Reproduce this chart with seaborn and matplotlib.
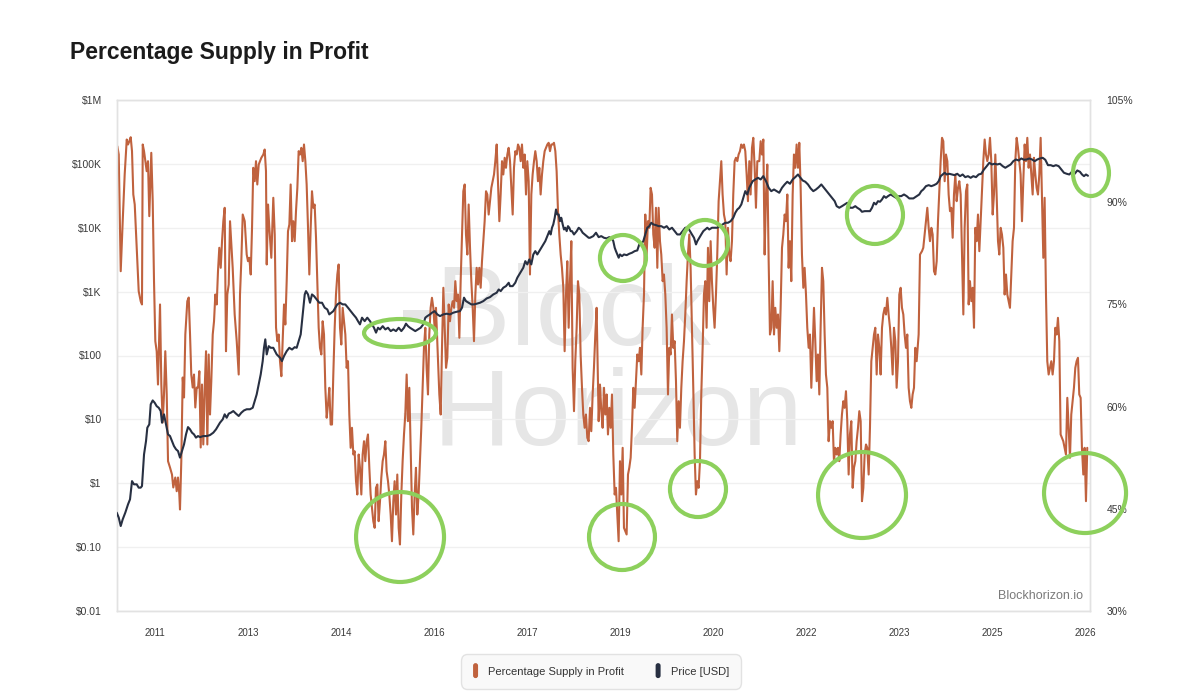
import matplotlib
matplotlib.use("Agg")
import matplotlib.pyplot as plt
import seaborn as sns
from matplotlib.patches import Ellipse, FancyBboxPatch, Patch
from matplotlib.legend_handler import HandlerPatch
from matplotlib.ticker import FixedLocator, FixedFormatter, NullLocator

# ---------------- data ----------------
psip_year = [
    2010.392, 2010.415, 2010.447, 2010.479, 2010.511, 2010.544, 2010.565, 2010.586, 2010.608, 2010.629,
    2010.650, 2010.673, 2010.705, 2010.737, 2010.769, 2010.790, 2010.802, 2010.823, 2010.844, 2010.866,
    2010.887, 2010.908, 2010.940, 2010.963, 2010.984, 2011.005, 2011.027, 2011.048, 2011.081, 2011.102,
    2011.124, 2011.145, 2011.166, 2011.189, 2011.210, 2011.242, 2011.274, 2011.295, 2011.327, 2011.350,
    2011.371, 2011.392, 2011.403, 2011.424, 2011.447, 2011.468, 2011.489, 2011.521, 2011.544, 2011.565,
    2011.585, 2011.608, 2011.629, 2011.650, 2011.673, 2011.694, 2011.715, 2011.737, 2011.758, 2011.779,
    2011.802, 2011.823, 2011.844, 2011.866, 2011.887, 2011.908, 2011.931, 2011.952, 2011.973, 2011.995,
    2012.016, 2012.037, 2012.060, 2012.081, 2012.102, 2012.124, 2012.145, 2012.166, 2012.189, 2012.210,
    2012.231, 2012.253, 2012.285, 2012.318, 2012.350, 2012.371, 2012.392, 2012.415, 2012.447, 2012.479,
    2012.500, 2012.521, 2012.544, 2012.565, 2012.585, 2012.608, 2012.629, 2012.650, 2012.673, 2012.694,
    2012.715, 2012.747, 2012.769, 2012.790, 2012.802, 2012.823, 2012.844, 2012.876, 2012.908, 2012.931,
    2012.952, 2012.973, 2012.995, 2013.016, 2013.038, 2013.059, 2013.081, 2013.102, 2013.124, 2013.145,
    2013.167, 2013.188, 2013.210, 2013.231, 2013.253, 2013.274, 2013.296, 2013.317, 2013.339, 2013.360,
    2013.382, 2013.403, 2013.425, 2013.446, 2013.468, 2013.489, 2013.511, 2013.532, 2013.554, 2013.575,
    2013.597, 2013.618, 2013.640, 2013.661, 2013.683, 2013.704, 2013.726, 2013.747, 2013.769, 2013.790,
    2013.812, 2013.833, 2013.855, 2013.876, 2013.898, 2013.919, 2013.941, 2013.962, 2013.984, 2014.005,
    2014.027, 2014.048, 2014.070, 2014.091, 2014.113, 2014.134, 2014.156, 2014.177, 2014.199, 2014.220,
    2014.242, 2014.263, 2014.285, 2014.306, 2014.328, 2014.349, 2014.371, 2014.392, 2014.414, 2014.435,
    2014.457, 2014.478, 2014.500, 2014.521, 2014.543, 2014.564, 2014.586, 2014.607, 2014.629, 2014.650,
    2014.672, 2014.693, 2014.715, 2014.736, 2014.758, 2014.779, 2014.801, 2014.822, 2014.844, 2014.865,
    2014.887, 2014.908, 2014.930, 2014.951, 2014.973, 2014.994, 2015.016, 2015.037, 2015.059, 2015.080,
    2015.102, 2015.123, 2015.145, 2015.166, 2015.188, 2015.209, 2015.231, 2015.252, 2015.274, 2015.295,
    2015.317, 2015.338, 2015.360, 2015.381, 2015.403, 2015.424, 2015.446, 2015.467, 2015.489, 2015.510,
    2015.532,
    2015.565, 2015.586, 2015.608, 2015.629, 2015.651, 2015.672, 2015.694, 2015.715, 2015.737, 2015.758,
    2015.780, 2015.801, 2015.823, 2015.844, 2015.866, 2015.887, 2015.909, 2015.930, 2015.952, 2015.973,
    2015.995, 2016.016, 2016.038, 2016.059, 2016.081, 2016.102, 2016.124, 2016.145, 2016.167, 2016.188,
    2016.210, 2016.231, 2016.253, 2016.274, 2016.296, 2016.317, 2016.339, 2016.360, 2016.382, 2016.403,
    2016.425, 2016.446, 2016.468, 2016.489, 2016.511, 2016.532, 2016.554, 2016.575, 2016.597, 2016.618,
    2016.640, 2016.661, 2016.683, 2016.704, 2016.726, 2016.747, 2016.769, 2016.790, 2016.812, 2016.833,
    2016.855, 2016.876, 2016.898, 2016.919, 2016.941, 2016.962, 2016.984, 2017.005, 2017.027, 2017.048,
    2017.070, 2017.091, 2017.113, 2017.134, 2017.156, 2017.177, 2017.199, 2017.220, 2017.242, 2017.263,
    2017.285, 2017.306, 2017.328, 2017.349, 2017.371, 2017.392, 2017.414, 2017.435, 2017.457, 2017.478,
    2017.500, 2017.521, 2017.543, 2017.564, 2017.586, 2017.607, 2017.629, 2017.650, 2017.672, 2017.693,
    2017.715, 2017.736, 2017.758, 2017.779, 2017.801, 2017.822, 2017.844, 2017.865, 2017.887, 2017.908,
    2017.930, 2017.951, 2017.973, 2017.994, 2018.016, 2018.037, 2018.059, 2018.080, 2018.102, 2018.123,
    2018.156, 2018.177, 2018.199, 2018.220, 2018.242, 2018.263, 2018.285, 2018.306, 2018.328, 2018.349,
    2018.371, 2018.392, 2018.414, 2018.435, 2018.457, 2018.478, 2018.500, 2018.521, 2018.543, 2018.564,
    2018.586, 2018.607, 2018.629, 2018.650, 2018.672, 2018.693, 2018.715, 2018.736, 2018.758, 2018.779,
    2018.801, 2018.822, 2018.844, 2018.865, 2018.887, 2018.908, 2018.930, 2018.951, 2018.973, 2018.994,
    2019.016, 2019.037, 2019.059, 2019.080, 2019.102, 2019.123, 2019.145, 2019.166, 2019.188, 2019.209,
    2019.231, 2019.252, 2019.274, 2019.295, 2019.317, 2019.338, 2019.360, 2019.381, 2019.403, 2019.424,
    2019.446, 2019.467, 2019.489, 2019.510, 2019.532, 2019.553, 2019.575, 2019.596, 2019.618, 2019.639,
    2019.661, 2019.682, 2019.704, 2019.725, 2019.747, 2019.768, 2019.790, 2019.811, 2019.833, 2019.854,
    2019.876, 2019.897, 2019.919, 2019.940, 2019.962, 2019.983, 2020.005, 2020.026, 2020.048, 2020.069,
    2020.091, 2020.112, 2020.134, 2020.155, 2020.177, 2020.198, 2020.220, 2020.241, 2020.263, 2020.284,
    2020.306, 2020.327, 2020.349, 2020.370, 2020.392, 2020.413, 2020.435, 2020.456, 2020.478, 2020.499,
    2020.521, 2020.543, 2020.564, 2020.586, 2020.607, 2020.629, 2020.650, 2020.672, 2020.693, 2020.715,
    2020.747, 2020.769, 2020.790, 2020.812, 2020.833, 2020.855, 2020.876, 2020.898, 2020.919, 2020.941,
    2020.962, 2020.984, 2021.005, 2021.027, 2021.048, 2021.070, 2021.091, 2021.113, 2021.134, 2021.156,
    2021.177, 2021.199, 2021.220, 2021.242, 2021.263, 2021.285, 2021.306, 2021.328, 2021.349, 2021.371,
    2021.392, 2021.414, 2021.435, 2021.457, 2021.478, 2021.500, 2021.521, 2021.543, 2021.564, 2021.586,
    2021.607, 2021.629, 2021.650, 2021.672, 2021.693, 2021.715, 2021.736, 2021.758, 2021.779, 2021.801,
    2021.822, 2021.844, 2021.865, 2021.887, 2021.908, 2021.930, 2021.951, 2021.973, 2021.994, 2022.016,
    2022.037, 2022.059, 2022.080, 2022.102, 2022.123, 2022.145, 2022.166, 2022.188, 2022.209, 2022.231,
    2022.253, 2022.274, 2022.296, 2022.317, 2022.339, 2022.360, 2022.382, 2022.403, 2022.425, 2022.446,
    2022.468, 2022.489, 2022.511, 2022.532, 2022.554, 2022.575, 2022.597, 2022.618, 2022.640, 2022.661,
    2022.683, 2022.704, 2022.726, 2022.747, 2022.769, 2022.790, 2022.812, 2022.833, 2022.855, 2022.876,
    2022.898, 2022.919, 2022.941, 2022.962, 2022.984, 2023.005, 2023.027, 2023.048, 2023.070, 2023.091,
    2023.113, 2023.134, 2023.156, 2023.177, 2023.199, 2023.220, 2023.242, 2023.263, 2023.285,
    2023.317, 2023.339,
    2023.371, 2023.392, 2023.414, 2023.436, 2023.457, 2023.479, 2023.500, 2023.522, 2023.543, 2023.565,
    2023.586, 2023.608, 2023.629, 2023.651, 2023.672, 2023.694, 2023.715, 2023.737, 2023.758, 2023.780,
    2023.801, 2023.823, 2023.844, 2023.866, 2023.887, 2023.909, 2023.930, 2023.952, 2023.973, 2023.995,
    2024.016, 2024.038, 2024.059, 2024.081, 2024.102, 2024.124, 2024.145, 2024.167, 2024.188, 2024.210,
    2024.231, 2024.253, 2024.274, 2024.296, 2024.317, 2024.339, 2024.360, 2024.382, 2024.403, 2024.425,
    2024.446, 2024.468, 2024.489, 2024.511, 2024.532, 2024.554, 2024.575, 2024.597, 2024.618, 2024.640,
    2024.661, 2024.683, 2024.704, 2024.726, 2024.747, 2024.769, 2024.790, 2024.812, 2024.833, 2024.855,
    2024.876, 2024.898, 2024.919, 2024.941, 2024.962, 2024.984, 2025.005, 2025.027, 2025.048, 2025.070,
    2025.091, 2025.113, 2025.134, 2025.156, 2025.177, 2025.199, 2025.220, 2025.242, 2025.263, 2025.285,
    2025.306, 2025.328, 2025.349, 2025.371, 2025.392, 2025.414, 2025.435, 2025.457, 2025.478, 2025.500,
    2025.521, 2025.543, 2025.564, 2025.586, 2025.607, 2025.629, 2025.650, 2025.672, 2025.693, 2025.715,
    2025.736, 2025.758, 2025.779, 2025.801, 2025.822, 2025.844, 2025.865, 2025.887, 2025.908, 2025.930,
    2025.951, 2025.973, 2025.994, 2026.016, 2026.037,
]

psip_pct = [
    98.22, 97.0, 79.87, 87.21, 94.07, 99.2, 98.47, 98.95, 99.54, 97.49,
    91.13, 89.66, 83.35, 76.94, 75.47, 74.99, 98.47, 97.49, 96.02, 94.55,
    96.02, 87.95, 97.25, 90.15, 78.41, 69.6, 68.13, 63.24, 74.99, 63.24,
    57.67, 61.78, 68.13, 61.78, 51.99, 51.06, 50.03, 48.13, 49.59, 47.58,
    49.59, 47.1, 44.9, 51.99, 64.27, 61.34, 70.58, 75.47, 76.01, 70.58,
    64.71, 62.8, 64.71, 59.87, 62.8, 62.8, 65.2, 54.0, 63.24, 54.44,
    62.8, 68.13, 54.44, 67.65, 58.84, 63.73, 70.58, 72.53, 76.45, 74.99,
    79.87, 83.31, 80.37, 84.28, 87.21, 89.18, 68.13, 76.45, 77.92, 87.21,
    83.79, 80.37, 73.52, 69.6, 64.71, 76.45, 81.34, 88.19, 87.21, 82.32,
    81.34, 81.84, 79.39, 86.24, 95.05, 93.08, 96.02, 92.6, 95.53, 96.02,
    96.52, 97.0, 97.73, 94.55, 80.86, 89.66, 86.24, 81.84, 90.65, 85.26,
    71.61, 69.6, 70.58, 66.66, 64.46, 69.6, 74.99, 72.05, 78.41, 85.74,
    86.73, 92.6, 84.28, 87.21, 84.28, 88.68, 92.11, 97.49, 97.0, 97.98,
    96.02, 98.47, 96.02, 92.6, 86.24, 79.39, 86.24, 91.61, 89.18, 89.66,
    84.78, 78.41, 71.57, 68.63, 67.65, 72.53, 70.58, 62.76, 58.36, 60.31,
    62.76, 57.37, 57.37, 64.71, 71.57, 76.45, 79.39, 80.86, 71.57, 69.11,
    74.5, 72.53, 70.58, 65.69, 66.66, 58.84, 53.95, 56.89, 52.97, 53.45,
    49.05, 47.1, 52.97, 51.02, 47.1, 52.97, 54.92, 51.99, 54.92, 55.91,
    51.02, 47.1, 45.15, 43.18, 42.21, 48.08, 48.57, 43.18, 46.12, 49.55,
    51.99, 52.97, 54.92, 50.52, 49.05, 47.1, 44.16, 40.24, 46.12, 49.05,
    44.16, 50.03, 42.21, 39.76, 47.1, 51.99, 55.91, 58.84, 64.71, 57.86,
    62.76, 53.95, 45.15, 41.23, 47.1, 51.02, 44.16, 47.1, 51.99, 56.89,
    62.76, 68.63, 71.57, 65.69, 61.78, 70.58, 74.5, 75.97, 74.5, 71.57,
    74.5,
    66.66, 61.78, 58.84, 68.63, 77.44, 71.57, 65.69, 67.16, 74.99, 72.53,
    74.5, 75.47, 74.5, 78.41, 75.47, 76.45, 70.1, 78.41, 85.26, 91.61,
    92.6, 85.26, 82.32, 89.66, 83.31, 78.41, 74.5, 69.6, 76.45, 80.37,
    77.92, 80.37, 77.44, 81.34, 84.28, 87.21, 91.61, 91.13, 88.19, 90.15,
    92.11, 93.08, 94.07, 96.02, 98.47, 93.08, 87.21, 91.13, 96.02, 94.07,
    96.52, 95.05, 97.0, 97.98, 96.02, 92.11, 88.19, 95.05, 97.49, 97.0,
    98.47, 97.98, 96.02, 98.47, 95.05, 97.0, 91.13, 96.02, 93.08, 79.39,
    91.13, 94.07, 96.02, 97.49, 96.02, 93.08, 95.05, 91.13, 94.07, 96.02,
    97.49, 97.98, 98.47, 98.72, 97.49, 98.47, 98.47, 98.72, 97.49, 94.55,
    88.68, 85.26, 82.32, 80.37, 77.44, 68.13, 76.45, 81.34, 71.57, 78.41,
    84.28, 65.69, 59.33, 66.66, 71.57, 78.41, 76.45, 67.65, 62.76, 58.84,
    56.89, 58.84, 55.42, 54.92, 59.82, 56.39, 61.78, 65.69, 70.58, 74.5,
    57.86, 63.24, 59.33, 56.89, 62.76, 58.84, 61.78, 55.91, 59.82, 56.89,
    61.78, 52.97, 47.1, 48.08, 44.16, 40.24, 51.99, 47.1, 53.95, 42.21,
    41.71, 41.23, 50.03, 51.02, 52.49, 56.89, 62.76, 59.82, 63.73, 67.65,
    66.66, 68.63, 64.71, 71.57, 76.45, 88.19, 82.32, 87.21, 86.24, 92.11,
    91.13, 85.26, 83.31, 89.18, 80.37, 89.18, 84.28, 82.32, 78.41, 79.39,
    76.45, 71.57, 61.78, 68.63, 67.65, 73.52, 68.63, 69.6, 63.73, 54.92,
    60.79, 56.89, 62.76, 66.66, 69.6, 73.52, 78.41, 82.32, 85.26, 80.37,
    71.57, 62.76, 52.97, 47.1, 49.05, 48.08, 51.99, 61.78, 68.63, 76.45,
    78.41, 71.57, 83.31, 75.47, 84.28, 78.41, 74.5, 71.57, 76.45, 82.32,
    90.15, 93.08, 96.02, 91.13, 88.19, 87.21, 79.39, 86.24, 82.32, 81.34,
    84.28, 91.13, 96.02, 96.52, 96.02, 97.0, 97.49, 98.47, 97.98, 98.47,
    97.49, 94.07, 90.15, 96.02, 91.13, 97.98, 99.45, 95.05, 89.18, 96.02,
    96.02, 98.95, 97.0, 99.2, 82.32, 91.13, 95.53, 81.34, 70.58, 71.57,
    78.41, 70.58, 74.5, 71.57, 73.52, 68.13, 74.5, 83.31, 85.26, 88.19,
    87.21, 91.13, 80.37, 84.28, 78.41, 91.13, 97.0, 95.05, 98.47, 95.05,
    98.72, 92.11, 82.32, 77.44, 80.37, 76.45, 71.57, 68.63, 70.58, 62.76,
    68.63, 74.5, 69.6, 63.73, 67.65, 61.78, 71.57, 80.37, 78.41, 70.58,
    64.71, 62.76, 54.92, 57.86, 56.89, 57.86, 51.99, 53.95, 52.97, 53.95,
    51.99, 55.91, 58.84, 60.79, 59.82, 62.26, 57.86, 50.03, 55.91, 57.86,
    48.08, 51.02, 51.99, 54.92, 56.89, 59.33, 57.86, 46.12, 48.08, 52.97,
    54.44, 53.95, 50.03, 56.89, 66.66, 68.63, 70.58, 71.57, 64.71, 70.58,
    68.63, 64.71, 71.57, 73.52, 74.5, 73.52, 75.97, 73.52, 71.57, 68.63,
    64.71, 71.57, 69.6, 62.76, 66.66, 76.45, 77.44, 74.5, 73.52, 70.58,
    68.63, 70.58, 62.76, 60.79, 59.82, 61.78, 62.76, 68.63, 66.66,
    70.58, 82.32,
    82.81, 83.31, 85.26, 87.21, 89.18, 86.24, 84.28, 86.24, 85.26, 79.87,
    79.39, 81.34, 87.21, 91.61, 96.02, 99.45, 98.95, 93.08, 97.0, 96.02,
    91.13, 88.68, 89.18, 84.78, 91.13, 94.07, 90.15, 92.11, 93.08, 91.13,
    82.32, 73.52, 86.24, 91.61, 92.6, 74.99, 78.41, 75.47, 77.44, 71.57,
    86.24, 84.28, 88.19, 82.81, 87.21, 92.11, 96.02, 99.2, 97.0, 96.02,
    97.0, 99.45, 96.02, 88.19, 91.13, 97.0, 91.13, 84.28, 82.32, 86.24,
    85.26, 83.31, 76.45, 79.39, 76.45, 75.47, 74.5, 79.39, 84.28, 86.24,
    96.02, 99.45, 97.98, 96.02, 94.07, 87.21, 93.08, 98.47, 96.02, 99.45,
    95.05, 97.0, 94.07, 91.13, 96.52, 94.07, 92.11, 91.13, 94.07, 99.45,
    91.13, 81.84, 90.65, 76.45, 66.66, 64.71, 65.69, 66.66, 64.71, 66.66,
    71.57, 70.58, 73.03, 69.6, 55.91, 55.42, 54.92, 53.95, 52.97, 61.29,
    56.89, 52.49, 58.84, 60.79, 62.76, 65.69, 66.66, 67.16, 61.78, 61.29,
    53.95, 50.03, 53.95, 46.12, 53.95,
]

price_year = [
    2010.382, 2010.415, 2010.447, 2010.479, 2010.521, 2010.565, 2010.597, 2010.629, 2010.661, 2010.705,
    2010.737, 2010.769, 2010.790, 2010.823, 2010.855, 2010.876, 2010.908, 2010.931, 2010.963, 2010.995,
    2011.027, 2011.060, 2011.092, 2011.113, 2011.145, 2011.177, 2011.210, 2011.242, 2011.274, 2011.306,
    2011.339, 2011.371, 2011.403, 2011.435, 2011.468, 2011.500, 2011.532, 2011.565, 2011.597, 2011.629,
    2011.661, 2011.694, 2011.726, 2011.779, 2011.834, 2011.887, 2011.940, 2011.984, 2012.016, 2012.048,
    2012.092, 2012.124, 2012.156, 2012.189, 2012.221, 2012.263, 2012.306, 2012.350, 2012.392, 2012.435,
    2012.479, 2012.532, 2012.576, 2012.608, 2012.640, 2012.673, 2012.705, 2012.737, 2012.758, 2012.779,
    2012.802, 2012.834, 2012.866, 2012.908, 2012.963, 2013.016, 2013.048, 2013.081, 2013.124, 2013.166,
    2013.210, 2013.253, 2013.285, 2013.318, 2013.350, 2013.371, 2013.392, 2013.415, 2013.435, 2013.468,
    2013.500, 2013.532, 2013.565, 2013.608, 2013.650, 2013.694, 2013.737, 2013.779, 2013.811, 2013.844,
    2013.876, 2013.908, 2013.940, 2013.984, 2014.027, 2014.069, 2014.113, 2014.156, 2014.198, 2014.242,
    2014.274, 2014.306, 2014.339, 2014.382, 2014.424, 2014.468, 2014.500, 2014.532, 2014.565, 2014.597,
    2014.629, 2014.673, 2014.715, 2014.758, 2014.802, 2014.844, 2014.887, 2014.931, 2014.973, 2015.016,
    2015.048, 2015.081, 2015.113, 2015.156, 2015.198, 2015.242, 2015.285, 2015.327, 2015.360, 2015.392,
    2015.435, 2015.468, 2015.511, 2015.553, 2015.597, 2015.650, 2015.705, 2015.758, 2015.811, 2015.866,
    2015.919, 2015.952, 2015.984, 2016.016, 2016.060, 2016.102, 2016.145, 2016.189, 2016.242, 2016.295,
    2016.350, 2016.403, 2016.457, 2016.511, 2016.544, 2016.576, 2016.618, 2016.661, 2016.705, 2016.726,
    2016.769, 2016.811, 2016.844, 2016.876, 2016.908, 2016.940, 2016.973, 2017.005, 2017.037, 2017.069,
    2017.102, 2017.134, 2017.166, 2017.198, 2017.231, 2017.263, 2017.295, 2017.327, 2017.360, 2017.382,
    2017.403, 2017.424, 2017.447, 2017.468, 2017.489, 2017.511, 2017.532, 2017.553, 2017.576, 2017.597,
    2017.618, 2017.640, 2017.661, 2017.682, 2017.705, 2017.726, 2017.758, 2017.802, 2017.834, 2017.866,
    2017.898, 2017.931, 2017.963, 2017.995, 2018.016, 2018.069, 2018.113, 2018.156, 2018.198, 2018.242,
    2018.285, 2018.327, 2018.371, 2018.392, 2018.415, 2018.435, 2018.457, 2018.479, 2018.500, 2018.532,
    2018.565, 2018.608, 2018.650, 2018.694, 2018.737, 2018.779, 2018.811, 2018.844, 2018.876, 2018.908,
    2018.940, 2018.973, 2019.005, 2019.037, 2019.081, 2019.124, 2019.166, 2019.210, 2019.253, 2019.295,
    2019.339, 2019.382, 2019.424, 2019.468, 2019.511, 2019.553, 2019.597, 2019.629, 2019.661, 2019.694,
    2019.726, 2019.747, 2019.779, 2019.811, 2019.844, 2019.876, 2019.908, 2019.940, 2019.984, 2020.027,
    2020.069, 2020.113, 2020.156, 2020.198, 2020.242, 2020.285, 2020.327, 2020.360, 2020.392, 2020.424,
    2020.457, 2020.489, 2020.521, 2020.553, 2020.585, 2020.640, 2020.682, 2020.726, 2020.769, 2020.811,
    2020.855, 2020.898, 2020.940, 2020.984, 2021.027, 2021.069, 2021.113, 2021.156, 2021.198, 2021.242,
    2021.285, 2021.327, 2021.371, 2021.403, 2021.447, 2021.489, 2021.532, 2021.576, 2021.618, 2021.661,
    2021.705, 2021.747, 2021.790, 2021.834, 2021.876, 2021.919, 2021.963, 2021.995, 2022.037, 2022.081,
    2022.124, 2022.166, 2022.210, 2022.253, 2022.295, 2022.327, 2022.371, 2022.403, 2022.447, 2022.489,
    2022.532, 2022.565, 2022.597, 2022.629, 2022.661, 2022.694, 2022.726, 2022.758, 2022.790, 2022.823,
    2022.866, 2022.908, 2022.952, 2022.995, 2023.037, 2023.081, 2023.124, 2023.166, 2023.231, 2023.285,
    2023.327, 2023.360, 2023.392, 2023.435, 2023.479, 2023.521, 2023.565, 2023.608, 2023.640, 2023.673,
    2023.705, 2023.737, 2023.769, 2023.811, 2023.855, 2023.898, 2023.940, 2023.984, 2024.027, 2024.069,
    2024.113, 2024.156, 2024.198, 2024.242, 2024.285, 2024.327, 2024.371, 2024.415, 2024.457, 2024.500,
    2024.544, 2024.585, 2024.629, 2024.673, 2024.715, 2024.758, 2024.802, 2024.844, 2024.887, 2024.931,
    2024.973, 2025.016, 2025.060, 2025.102, 2025.145, 2025.189, 2025.231, 2025.274, 2025.318, 2025.360,
    2025.403, 2025.447, 2025.489, 2025.532, 2025.576, 2025.618, 2025.661, 2025.705, 2025.747, 2025.790,
    2025.834, 2025.876, 2025.919, 2025.952, 2025.984, 2026.016, 2026.048,
]

price_usd = [
    0.347, 0.290, 0.214, 0.272, 0.347, 0.468, 0.560, 1.08, 0.962, 0.962,
    0.853, 0.853, 0.904, 2.83, 4.57, 7.41, 8.36, 17.2, 19.8, 18.2,
    16.1, 15.2, 13.5, 8.87, 12.0, 8.36, 5.82, 5.48, 4.57, 3.82,
    3.40, 3.19, 2.52, 3.19, 4.06, 5.82, 7.57, 6.98, 6.19, 5.82,
    5.18, 5.48, 5.28, 5.48, 5.48, 5.68, 6.19, 6.98, 7.85, 8.87,
    10.0, 12.0, 10.6, 12.3, 12.7, 13.5, 12.3, 11.3, 12.7, 13.8,
    14.4, 14.4, 15.2, 19.3, 24.6, 35.3, 50.6, 81.7, 132, 179,
    104, 140, 132, 132, 104, 92.5, 81.7, 98.0, 117, 132,
    124, 135, 132, 168, 214, 345, 560, 904, 1019, 904,
    670, 904, 851, 755, 670, 670, 560, 526, 440, 468,
    495, 560, 631, 670, 631, 631, 560, 495, 440, 391,
    345, 307, 391, 345, 391, 345, 307, 272, 228, 272,
    256, 288, 256, 272, 241, 256, 241, 272, 241, 272,
    315, 288, 272, 256, 241, 256, 272, 307, 391, 414,
    440, 468, 495, 440, 414, 440, 451, 440, 468, 484,
    495, 560, 804, 710, 670, 631, 631, 647, 670, 710,
    783, 820, 904, 962, 1081, 1019, 1151, 1219, 1377, 1219,
    1219, 1377, 1652, 1858, 2094, 2366, 3000, 2667, 3192, 2667,
    3819, 4305, 3819, 4305, 4864, 5483, 6166, 7396, 8851, 7852,
    10000, 11270, 14330, 19320, 16140, 16140, 12680, 14330, 11270, 9397,
    10000, 8851, 10590, 10000, 8851, 8851, 7852, 8851, 10000, 9397,
    8356, 7852, 7396, 6966, 6966, 7396, 8356, 7129, 7396, 6966,
    6808, 7129, 6808, 6166, 4864, 4305, 3819, 3396, 3819, 3597,
    3819, 3724, 3918, 4064, 4305, 4415, 5483, 5623, 6166, 7852,
    10000, 10590, 11970, 11270, 10990, 10590, 10590, 10000, 10590, 9397,
    10000, 8851, 7852, 7852, 8851, 10000, 10000, 8851, 7852, 6966,
    5483, 6166, 6966, 7852, 8851, 9397, 10000, 9397, 10000, 10000,
    10000, 10590, 11270, 11970, 11970, 12680, 14330, 17180, 19320, 20560,
    23170, 29450, 37410, 33190, 42270, 53580, 57020, 60530, 57020, 64270,
    53580, 42270, 37410, 39720, 37410, 35320, 42270, 47640, 52480, 48870,
    57020, 61940, 68230, 61940, 54950, 52480, 47640, 41210, 37410, 39720,
    43150, 47640, 42270, 37410, 33190, 29450, 26060, 21780, 20560, 21780,
    23170, 24600, 20560, 20560, 21780, 20560, 19320, 17780, 18200, 18200,
    18200, 20560, 24600, 23170, 26060, 25520, 27730, 31260, 29450, 31260,
    33190, 31260, 29450, 31260, 31260, 33190, 31260, 28770, 28770, 31260,
    33190, 37410, 39720, 44770, 46450, 44770, 46450, 48870, 53580, 64270,
    68230, 72610, 68230, 69980, 68230, 66530, 69980, 64270, 68230, 61940,
    64270, 60530, 64270, 61940, 68230, 69980, 81660, 92040, 104000, 97950,
    100500, 97950, 100500, 92040, 86900, 92040, 97950, 110200, 117200, 113000,
    121600, 115900, 117200, 121600, 117200, 110200, 117200, 121600, 124500, 115900,
    95500, 95500, 92040, 95500, 92040, 81660, 72610, 69980, 68230, 75160,
    69980, 78890, 75160, 68230, 64270, 68230, 65160,
]

x_tick_pos = [2011.0, 2012.5, 2014.0, 2015.5, 2017.0, 2018.5, 2020.0, 2021.5, 2023.0, 2024.5, 2026.0]
x_tick_labels = ["2011", "2013", "2014", "2016", "2017", "2019", "2020", "2022", "2023", "2025", "2026"]
price_ticks = [0.01, 0.1, 1, 10, 100, 1e3, 1e4, 1e5, 1e6]
price_tick_labels = ["$0.01", "$0.10", "$1", "$10", "$100", "$1K", "$10K", "$100K", "$1M"]
pct_ticks = [30, 45, 60, 75, 90, 105]
pct_tick_labels = ["30%", "45%", "60%", "75%", "90%", "105%"]

series_names = ["Percentage Supply in Profit", "Price [USD]"]

# hand-drawn green highlight rings (axes-fraction centre x, y, width, height)
highlight_rings = [
    (0.2909, 0.1448, 0.0904, 0.1761),
    (0.2909, 0.5440, 0.0740, 0.0548),
    (0.5190, 0.1448, 0.0678, 0.1292),
    (0.5200, 0.6908, 0.0473, 0.0900),
    (0.5971, 0.2387, 0.0576, 0.1096),
    (0.6043, 0.7202, 0.0473, 0.0900),
    (0.7657, 0.2270, 0.0904, 0.1683),
    (0.7790, 0.7750, 0.0576, 0.1135),
    (0.9949, 0.2309, 0.0843, 0.1566),
    (1.0010, 0.8571, 0.0370, 0.0900),
]

assert len(psip_year) == len(psip_pct), (len(psip_year), len(psip_pct))
assert len(price_year) == len(price_usd), (len(price_year), len(price_usd))

# ---------------- styling ----------------
ORANGE = "#C0623E"
NAVY = "#283042"
GREEN = "#8DD05C"
SPINE = "#e2e2e2"
GRID = "#f0f0f0"
TICK = "#3a3a3a"
WATERMARK = "#e6e6e6"

sns.set_theme(style="white")
plt.rcParams["font.family"] = ["Liberation Sans", "DejaVu Sans"]

fig = plt.figure(figsize=(12, 7), dpi=100)
fig.patch.set_facecolor("white")
ax = fig.add_axes([117 / 1200, 89 / 700, 973 / 1200, 511 / 700])   # price axis (left ticks, grid)
ax2 = ax.twinx()                                                    # percentage axis (right ticks)
ax3 = ax.twinx()                                                    # price line drawn on top

# watermark
ax.text(0.2888, 0.5205, "-Block", transform=ax.transAxes, fontsize=81, color=WATERMARK,
        ha="left", va="baseline", zorder=0)
ax.text(0.2888, 0.3249, "-Horizon", transform=ax.transAxes, fontsize=77, color=WATERMARK,
        ha="left", va="baseline", zorder=0)

sns.lineplot(x=psip_year, y=psip_pct, ax=ax2, color=ORANGE, linewidth=1.5, legend=False)
sns.lineplot(x=price_year, y=price_usd, ax=ax3, color=NAVY, linewidth=1.5, legend=False)

for a in (ax, ax3):
    a.set_yscale("log")
    a.set_ylim(0.01, 1e6)
ax.yaxis.set_major_locator(FixedLocator(price_ticks))
ax.yaxis.set_major_formatter(FixedFormatter(price_tick_labels))
ax.yaxis.set_minor_locator(NullLocator())
ax.set_xlim(2010.387, 2026.081)
ax.set_xticks(x_tick_pos)
ax.set_xticklabels(x_tick_labels)

ax2.set_ylim(30, 105)
ax2.set_yticks(pct_ticks)
ax2.set_yticklabels(pct_tick_labels)

ax3.yaxis.set_major_locator(NullLocator())
ax3.yaxis.set_minor_locator(NullLocator())
ax3.tick_params(axis="y", length=0, labelright=False)

for a in (ax, ax2, ax3):
    a.set_xlabel("")
    a.set_ylabel("")
    for s in a.spines.values():
        s.set_color(SPINE)
        s.set_linewidth(1.0)
for s in ax3.spines.values():
    s.set_visible(False)
ax.yaxis.grid(True, color=GRID, linewidth=1.0)
ax.xaxis.grid(False)
ax2.grid(False)
ax3.grid(False)
ax.set_axisbelow(True)
ax.tick_params(axis="y", length=0, pad=11, labelsize=7.5, labelcolor=TICK)
ax.tick_params(axis="x", length=0, pad=12, labelsize=7, labelcolor=TICK)
ax2.tick_params(axis="y", length=0, pad=12, labelsize=7.5, labelcolor=TICK)
ax2.patch.set_visible(False)
ax3.patch.set_visible(False)

ax.text(0.9928, 0.029, "Blockhorizon.io", transform=ax.transAxes, ha="right", va="center",
        fontsize=9, color="#7a7a7a", zorder=5)

for cx, cy, w, h in highlight_rings:
    ax3.add_patch(Ellipse((cx, cy), w, h, transform=ax3.transAxes, fill=False,
                          edgecolor=GREEN, linewidth=3.0, clip_on=False, zorder=10))

# title
fig.text(70 / 1200, 1 - 52 / 700, "Percentage Supply in Profit", fontsize=16.5,
         fontweight="bold", color="#1b1b1b", ha="left", va="center")


# legend with rounded vertical bars
class RoundBarHandler(HandlerPatch):
    def create_artists(self, legend, orig_handle, xdescent, ydescent, width, height, fontsize, trans):
        bw = 0.45 * fontsize
        bh = 1.35 * fontsize
        x0 = -xdescent + (width - bw) / 2
        y0 = -ydescent + (height - bh) / 2
        p = FancyBboxPatch((x0, y0), bw, bh,
                           boxstyle=f"round,pad=0,rounding_size={bw / 2}",
                           facecolor=orig_handle.get_facecolor(), edgecolor="none", transform=trans)
        return [p]


handles = [Patch(facecolor=ORANGE), Patch(facecolor=NAVY)]
leg = fig.legend(handles, series_names, loc="center", bbox_to_anchor=(0.5008, 0.0407), ncol=2,
                 frameon=True, fancybox=True, fontsize=8, handlelength=0.5, handletextpad=0.9,
                 columnspacing=2.8, borderpad=1.1,
                 handler_map={Patch: RoundBarHandler()})
frame = leg.get_frame()
frame.set_facecolor("#f8f8f8")
frame.set_edgecolor("#dcdcdc")
frame.set_linewidth(1.0)
frame.set_boxstyle("round,pad=0,rounding_size=0.6")
for t in leg.get_texts():
    t.set_color("#333333")

fig.savefig("out.png", dpi=100)
